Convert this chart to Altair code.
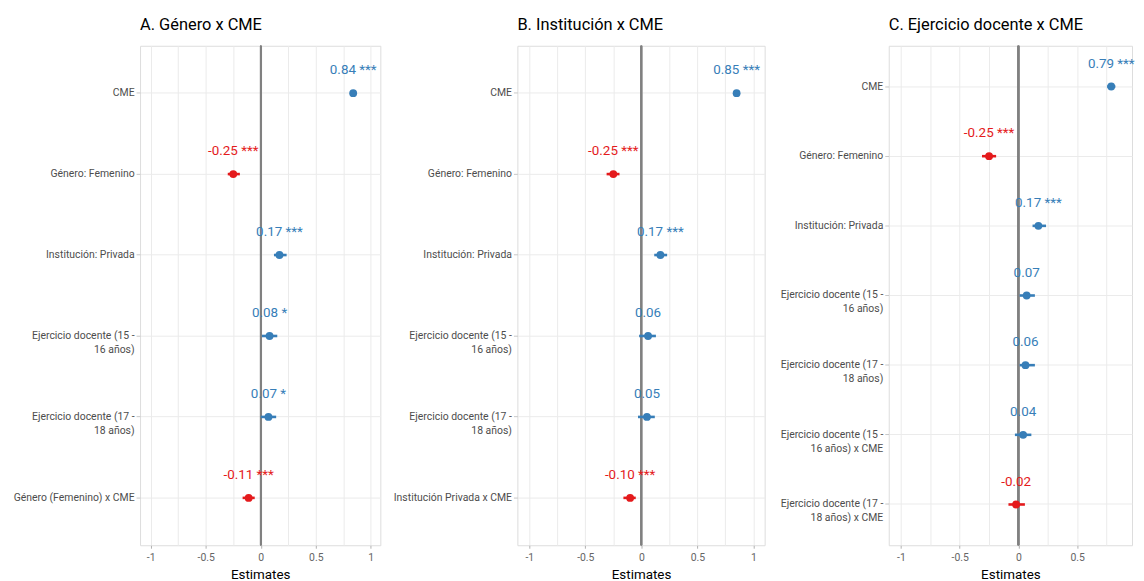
import altair as alt
import pandas as pd

FONT = "Roboto"

# ---- Panel A ----
terms_a = ["CME", "Género: Femenino", "Institución: Privada",
           "Ejercicio docente (15 -\n16 años)", "Ejercicio docente (17 -\n18 años)",
           "Género (Femenino) x CME"]
est_a = [0.84, -0.25, 0.17, 0.08, 0.07, -0.11]
lo_a = [0.81, -0.30, 0.12, 0.01, 0.00, -0.165]
hi_a = [0.87, -0.19, 0.235, 0.15, 0.14, -0.055]
stars_a = ["***", "***", "***", "*", "*", "***"]

# ---- Panel B ----
terms_b = ["CME", "Género: Femenino", "Institución: Privada",
           "Ejercicio docente (15 -\n16 años)", "Ejercicio docente (17 -\n18 años)",
           "Institución Privada x CME"]
est_b = [0.85, -0.25, 0.17, 0.06, 0.05, -0.10]
lo_b = [0.82, -0.31, 0.115, -0.02, -0.03, -0.16]
hi_b = [0.88, -0.195, 0.23, 0.13, 0.12, -0.05]
stars_b = ["***", "***", "***", "", "", "***"]

# ---- Panel C ----
terms_c = ["CME", "Género: Femenino", "Institución: Privada",
           "Ejercicio docente (15 -\n16 años)", "Ejercicio docente (17 -\n18 años)",
           "Ejercicio docente (15 -\n16 años) x CME", "Ejercicio docente (17 -\n18 años) x CME"]
est_c = [0.79, -0.25, 0.17, 0.07, 0.06, 0.04, -0.02]
lo_c = [0.755, -0.31, 0.12, 0.01, 0.01, -0.03, -0.085]
hi_c = [0.825, -0.19, 0.235, 0.14, 0.14, 0.11, 0.055]
stars_c = ["***", "***", "***", "", "", "", ""]

x_ticks = [-1, -0.75, -0.5, -0.25, 0, 0.25, 0.5, 0.75, 1]
x_ticks_c = [-1, -0.75, -0.5, -0.25, 0, 0.25, 0.5, 0.75]

BLUE = "#377eb8"
RED = "#e41a1c"
MAJOR = "abs(datum.value*2 - round(datum.value*2)) < 0.001"


def panel(title, terms, est, lo, hi, stars, width, dom, ext, ticks):
    df = pd.DataFrame({"term": terms, "est": est, "lo": lo, "hi": hi})
    df["label"] = [f"{e:.2f}" + (f" {s}" if s else "") for e, s in zip(est, stars)]
    df["sign"] = ["pos" if e > 0 else "neg" for e in est]

    xscale = alt.Scale(domain=dom, nice=False, zero=False)
    yenc = alt.Y(
        "term:N", sort=terms,
        scale=alt.Scale(type="band", paddingInner=0, paddingOuter=0.085),
        axis=alt.Axis(
            title=None, labelExpr="split(datum.label, '\\n')", labelLimit=400,
            labelFontSize=10.5, labelColor="#4d4d4d", labelFont=FONT,
            labelLineHeight=14, tickSize=4, tickColor="#c8c8c8", labelPadding=2,
            grid=True, gridColor="#ebebeb", gridWidth=1, domain=False,
            minExtent=ext, maxExtent=ext,
        ),
    )
    xaxis = alt.Axis(
        title="Estimates", values=ticks,
        labelExpr=f"{MAJOR} ? '' + datum.value : ''",
        labelFontSize=10.5, labelColor="#666666", labelFont=FONT,
        titleFont=FONT, titleFontSize=13.5, titleFontWeight="normal", titleColor="#000000",
        titlePadding=5,
        tickSize=3, tickColor="#b0b0b0",
        tickOpacity={"condition": {"test": MAJOR, "value": 1}, "value": 0},
        grid=True, gridColor="#ebebeb", gridWidth=1, domain=False, labelPadding=4,
    )
    color = alt.Color("sign:N", scale=alt.Scale(domain=["pos", "neg"], range=[BLUE, RED]), legend=None)

    base = alt.Chart(df)
    zero = base.mark_rule(color="#808080", strokeWidth=1.6).encode(
        x=alt.datum(0, scale=xscale, axis=xaxis))
    err = base.mark_rule(strokeWidth=2.6).encode(
        x=alt.X("lo:Q", scale=xscale, axis=xaxis), x2="hi:Q", y=yenc, color=color)
    pts = base.mark_circle(size=62, opacity=1).encode(
        x=alt.X("est:Q", scale=xscale, axis=xaxis), y=yenc, color=color)
    txt = base.mark_text(dy=-23, fontSize=13.5, font=FONT).encode(
        x=alt.X("est:Q", scale=xscale, axis=xaxis), y=yenc, text="label:N", color=color)
    return alt.layer(zero, err, pts, txt).properties(
        width=width, height=503,
        title=alt.TitleParams(title, anchor="start", frame="group", fontSize=16.5,
                              fontWeight="normal", font=FONT, color="#000000", offset=12),
    )


pa = panel("A. Género x CME", terms_a, est_a, lo_a, hi_a, stars_a, 242, [-1.097, 1.087], 132, x_ticks)
pb = panel("B. Institución x CME", terms_b, est_b, lo_b, hi_b, stars_b, 249, [-1.106, 1.10], 136, x_ticks)
pc = panel("C. Ejercicio docente x CME", terms_c, est_c, lo_c, hi_c, stars_c, 245, [-1.104, 0.967], 123, x_ticks_c)

chart = alt.hconcat(pa, pb, pc, spacing=0).properties(
    padding={"left": 0, "top": 6, "right": 0, "bottom": 0}
).configure_view(stroke="#d4d4d4", strokeWidth=1.5).configure(background="white")

chart.save("out.html", embed_options={"renderer": "svg", "actions": False})
